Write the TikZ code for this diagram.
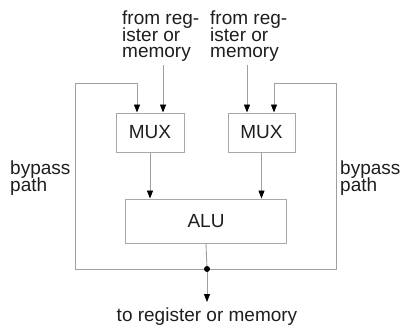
\documentclass[tikz,border=0pt]{standalone}
\usepackage{fontspec}
\setmainfont{Liberation Sans}
\usepackage{xcolor}
\definecolor{wire-gray}{HTML}{A0A0A0}
\definecolor{box-gray}{HTML}{A8A8A8}
\definecolor{label-ink}{HTML}{1E1E1E}
\usetikzlibrary{
  arrows.meta,
  positioning,
  calc
}
\newcommand\labelfont{\fontsize{19}{16.5}\selectfont\lineskiplimit=-100pt\relax}

\begin{document}
\begin{tikzpicture}[
    x=1pt, y=-1pt,
    unit/.style={
      rectangle,
      draw=box-gray,
      line width=0.9pt,
      inner sep=0pt,
      font=\labelfont,
      text=label-ink
    },
    lbl/.style={
      inner sep=0pt,
      align=left,
      font=\labelfont,
      text=label-ink
    },
    sig/.style={
      -{Triangle[length=8pt, width=6pt, color=black]},
      line width=0.9pt,
      color=wire-gray
    },
    wire/.style={
      line width=0.9pt,
      color=wire-gray
    }
  ]
    \useasboundingbox (0,0) rectangle (404,328);

    \node[lbl, anchor=north west] (srcL) at (122, 11) {from reg-\\ister or\\memory};
    \node[lbl, anchor=north west] (srcR) at (210, 11) {from reg-\\ister or\\memory};
    \node[unit, minimum width=68pt, minimum height=39pt] (muxL) at (150, 132.5) {MUX};
    \node[unit, minimum width=67pt, minimum height=39pt] (muxR) at (261.5, 132.5) {MUX};
    \node[unit, minimum width=161pt, minimum height=44pt] (alu) at (206, 221) {ALU};
    \node[lbl, anchor=north west] (bypL) at (10, 161) {bypass\\path};
    \node[lbl, anchor=north west] (bypR) at (340, 161) {bypass\\path};
    \node[lbl, anchor=base, inner ysep=6pt] (out) at (207, 322) {to register or memory};

    \coordinate (junc)  at (207, 269);
    \coordinate (loopL) at (75, 83);
    \coordinate (loopR) at (336, 83);

    % operands -> mux
    \draw[sig] ($(muxL.north)+(13,-48)$) -- ($(muxL.north)+(13,0)$);
    \draw[sig] ($(muxR.north)+(-14.5,-48)$) -- ($(muxR.north)+(-14.5,0)$);
    % mux -> alu
    \draw[sig] (muxL.south) -- (muxL.south |- alu.north);
    \draw[sig] (muxR.south) -- (muxR.south |- alu.north);
    % alu -> result
    \draw[wire] (alu.south) -- (junc);
    \draw[sig] (junc) -- (out.north);
    % bypass paths back to mux
    \draw[sig] (junc) -| (loopL) -| ($(muxL.north)+(-13,0)$);
    \draw[sig] (junc) -| (loopR) -| ($(muxR.north)+(12.5,0)$);

    \fill[black] (junc) circle (3pt);
  \end{tikzpicture}
\end{document}
